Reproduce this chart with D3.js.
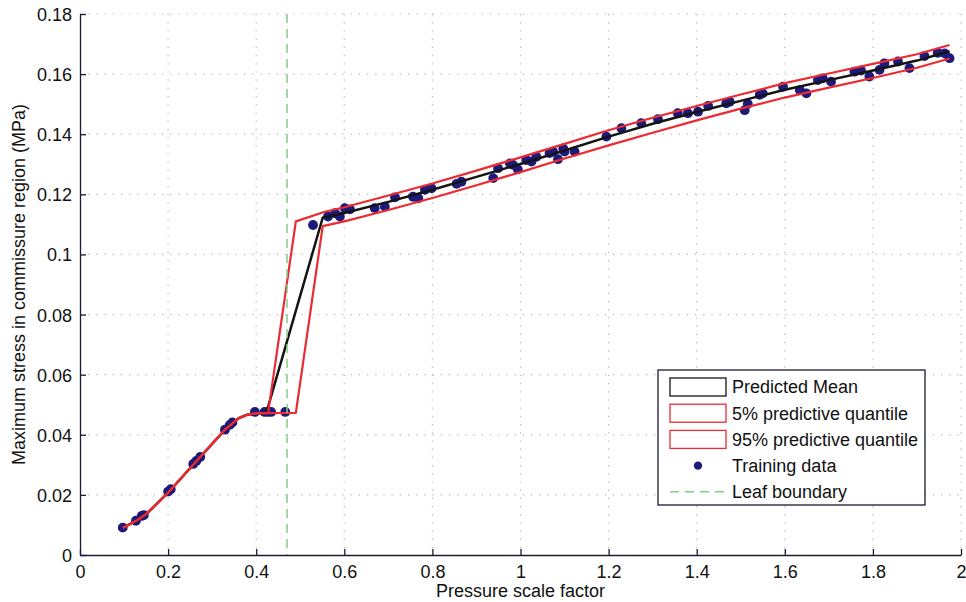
<!DOCTYPE html>
<html>
<head>
<meta charset="utf-8">
<script src="https://cdn.jsdelivr.net/npm/d3@7"></script>
<style>
  html, body { margin: 0; padding: 0; background: #fff; }
  svg { display: block; font-family: "Liberation Sans", Arial, Helvetica, sans-serif; }
</style>
</head>
<body>
<svg id="chart" width="966" height="602"></svg>
<script>
// Pressure scale factor vs. maximum commissure stress (MPa)

// Training runs of the simulator
const trainX = [0.097, 0.127, 0.140, 0.145, 0.200, 0.206, 0.257, 0.264, 0.273, 0.329, 0.340, 0.346,
  0.397, 0.419, 0.427, 0.434, 0.466,
  0.529, 0.563, 0.579, 0.590, 0.601, 0.613, 0.669, 0.692, 0.715, 0.756, 0.768, 0.783, 0.798,
  0.855, 0.866, 0.938, 0.949, 0.976, 0.983, 0.994, 1.013, 1.025, 1.036, 1.066, 1.074, 1.085,
  1.097, 1.100, 1.123, 1.195, 1.229, 1.274, 1.312, 1.357, 1.380, 1.403, 1.426, 1.467, 1.475,
  1.509, 1.516, 1.543, 1.550, 1.596, 1.634, 1.649, 1.675, 1.686, 1.705, 1.758, 1.773, 1.792,
  1.815, 1.826, 1.857, 1.883, 1.917, 1.947, 1.963, 1.974];
const trainY = [0.0091, 0.0114, 0.0130, 0.0133, 0.0211, 0.0219, 0.0303, 0.0313, 0.0326, 0.0417, 0.0433, 0.0441,
  0.0476, 0.0476, 0.0476, 0.0476, 0.0476,
  0.1098, 0.1126, 0.1137, 0.1126, 0.1154, 0.1150, 0.1154, 0.1159, 0.1190, 0.1192, 0.1187, 0.1215, 0.1220,
  0.1235, 0.1242, 0.1254, 0.1287, 0.1303, 0.1298, 0.1283, 0.1314, 0.1309, 0.1325, 0.1337, 0.1342, 0.1317,
  0.1353, 0.1342, 0.1342, 0.1392, 0.1420, 0.1437, 0.1450, 0.1470, 0.1470, 0.1475, 0.1494, 0.1503, 0.1508,
  0.1480, 0.1501, 0.1531, 0.1536, 0.1558, 0.1547, 0.1536, 0.1580, 0.1586, 0.1575, 0.1608, 0.1612, 0.1592,
  0.1614, 0.1636, 0.1642, 0.1620, 0.1660, 0.1671, 0.1669, 0.1653];

// Emulator predicted mean
const meanX = [0.097, 0.13, 0.15, 0.2, 0.25, 0.3, 0.33, 0.36, 0.38, 0.4, 0.423, 0.551,
  0.6, 0.7, 0.8, 0.9, 1.0, 1.1, 1.2, 1.3, 1.4, 1.5, 1.6, 1.7, 1.8, 1.9, 1.974];
const meanY = [0.0090, 0.0116, 0.0136, 0.0207, 0.0289, 0.0370, 0.0418, 0.0455, 0.0467, 0.0471, 0.0473, 0.1122,
  0.1138, 0.1175, 0.1215, 0.1258, 0.1301, 0.1346, 0.1392, 0.1435, 0.1474, 0.1511, 0.1548, 0.1580, 0.1612, 0.1645, 0.1676];

// 5% predictive quantile
const q05X = [0.097, 0.13, 0.15, 0.2, 0.25, 0.3, 0.33, 0.36, 0.38, 0.4, 0.423, 0.49, 0.551,
  0.6, 0.7, 0.8, 0.9, 1.0, 1.1, 1.2, 1.3, 1.4, 1.5, 1.6, 1.7, 1.8, 1.9, 1.974];
const q05Y = [0.0090, 0.0116, 0.0136, 0.0207, 0.0289, 0.0370, 0.0418, 0.0455, 0.0467, 0.0471, 0.0472, 0.0473, 0.1094,
  0.1110, 0.1148, 0.1188, 0.1230, 0.1274, 0.1319, 0.1363, 0.1405, 0.1446, 0.1485, 0.1522, 0.1555, 0.1587, 0.1621, 0.1652];

// 95% predictive quantile
const q95X = [0.097, 0.13, 0.15, 0.2, 0.25, 0.3, 0.33, 0.36, 0.38, 0.4, 0.427, 0.49, 0.556,
  0.6, 0.7, 0.8, 0.9, 1.0, 1.1, 1.2, 1.3, 1.4, 1.5, 1.6, 1.7, 1.8, 1.9, 1.974];
const q95Y = [0.0090, 0.0116, 0.0136, 0.0207, 0.0289, 0.0370, 0.0418, 0.0455, 0.0467, 0.0471, 0.0473, 0.1110, 0.1142,
  0.1157, 0.1196, 0.1236, 0.1279, 0.1323, 0.1368, 0.1413, 0.1455, 0.1494, 0.1532, 0.1570, 0.1602, 0.1634, 0.1666, 0.1697];

// Leaf boundary
const leafBoundary = 0.47;

// Axis ticks
const xTicks = [0, 0.2, 0.4, 0.6, 0.8, 1, 1.2, 1.4, 1.6, 1.8, 2];
const xTickLabels = ["0", "0.2", "0.4", "0.6", "0.8", "1", "1.2", "1.4", "1.6", "1.8", "2"];
const yTicks = [0, 0.02, 0.04, 0.06, 0.08, 0.1, 0.12, 0.14, 0.16, 0.18];
const yTickLabels = ["0", "0.02", "0.04", "0.06", "0.08", "0.1", "0.12", "0.14", "0.16", "0.18"];

const legendLabels = ["Predicted Mean", "5% predictive quantile", "95% predictive quantile", "Training data", "Leaf boundary"];

const colors = { mean: "#141414", quant: "#ec2a32", point: "#1c1a7a", leaf: "#86cc86", axis: "#1a1a33", grid: "#b4b4b8" };

const svg = d3.select("#chart");
const plot = { left: 80, right: 961, top: 14, bottom: 555 };
const x = d3.scaleLinear().domain([0, 2]).range([plot.left, plot.right]);
const y = d3.scaleLinear().domain([0, 0.18]).range([plot.bottom, plot.top]);

// dotted grid
const grid = svg.append("g");
grid.selectAll("line.gx").data(xTicks.slice(1)).join("line")
  .attr("x1", d => x(d)).attr("x2", d => x(d)).attr("y1", plot.top).attr("y2", plot.bottom)
  .attr("stroke", colors.grid).attr("stroke-width", 1.2).attr("stroke-dasharray", "1.2,7");
grid.selectAll("line.gy").data(yTicks.slice(1)).join("line")
  .attr("x1", plot.left).attr("x2", plot.right).attr("y1", d => y(d)).attr("y2", d => y(d))
  .attr("stroke", colors.grid).attr("stroke-width", 1.2).attr("stroke-dasharray", "1.2,7");

// training points
svg.append("g").selectAll("circle").data(trainX).join("circle")
  .attr("cx", d => x(d)).attr("cy", (d, i) => y(trainY[i])).attr("r", 4.9)
  .attr("fill", colors.point);

const line = d3.line().x(d => x(d[0])).y(d => y(d[1]));
const pairs = (xs, ys) => xs.map((v, i) => [v, ys[i]]);

svg.append("path").datum(pairs(meanX, meanY)).attr("d", line)
  .attr("fill", "none").attr("stroke", colors.mean).attr("stroke-width", 2.5).attr("stroke-linejoin", "round");
svg.append("path").datum(pairs(q05X, q05Y)).attr("d", line)
  .attr("fill", "none").attr("stroke", colors.quant).attr("stroke-width", 2.2).attr("stroke-linejoin", "round");
svg.append("path").datum(pairs(q95X, q95Y)).attr("d", line)
  .attr("fill", "none").attr("stroke", colors.quant).attr("stroke-width", 2.2).attr("stroke-linejoin", "round");

// leaf boundary
svg.append("line")
  .attr("x1", x(leafBoundary)).attr("x2", x(leafBoundary)).attr("y1", plot.top).attr("y2", plot.bottom)
  .attr("stroke", colors.leaf).attr("stroke-width", 1.5).attr("stroke-dasharray", "9,6");

// axes
const xAxis = svg.append("g").attr("transform", `translate(0,${plot.bottom})`)
  .call(d3.axisBottom(x).tickValues(xTicks).tickFormat((d, i) => xTickLabels[i])
    .tickSizeInner(-6).tickSizeOuter(0).tickPadding(10));
const yAxis = svg.append("g").attr("transform", `translate(${plot.left},0)`)
  .call(d3.axisLeft(y).tickValues(yTicks).tickFormat((d, i) => yTickLabels[i])
    .tickSizeInner(-6).tickSizeOuter(0).tickPadding(8));
[xAxis, yAxis].forEach(a => {
  a.select(".domain").attr("stroke", colors.axis).attr("stroke-width", 1.3);
  a.selectAll(".tick line").attr("stroke", colors.axis).attr("stroke-width", 1.3);
  a.selectAll(".tick text").attr("fill", "#111").style("font-size", "18px")
    .style("font-family", "'Liberation Sans', Arial, sans-serif");
});
yAxis.selectAll(".tick text").attr("dy", "0.36em");

svg.append("text").attr("x", (plot.left + plot.right) / 2).attr("y", 597).attr("text-anchor", "middle")
  .attr("fill", "#111").style("font-size", "18px").text("Pressure scale factor");
svg.append("text").attr("transform", `translate(25,${(plot.top + plot.bottom) / 2}) rotate(-90)`)
  .attr("text-anchor", "middle").attr("fill", "#111").style("font-size", "18px")
  .text("Maximum stress in commissure region (MPa)");

// legend
const lg = svg.append("g").attr("transform", "translate(658,370)");
lg.append("rect").attr("width", 267).attr("height", 135)
  .attr("fill", "#fff").attr("stroke", colors.axis).attr("stroke-width", 1.3);
const rowY = i => 17 + i * 26.2;
lg.selectAll("text").data(legendLabels).join("text")
  .attr("x", 74).attr("y", (d, i) => rowY(i)).attr("dy", "0.36em")
  .attr("fill", "#111").style("font-size", "18px").text(d => d);
[colors.mean, colors.quant, colors.quant].forEach((c, i) => {
  lg.append("rect").attr("x", 12).attr("y", rowY(i) - 9).attr("width", 56).attr("height", 18)
    .attr("fill", "none").attr("stroke", c).attr("stroke-width", 1.3);
});
lg.append("circle").attr("cx", 40).attr("cy", rowY(3)).attr("r", 4.2).attr("fill", colors.point);
lg.append("line").attr("x1", 12).attr("x2", 68).attr("y1", rowY(4)).attr("y2", rowY(4))
  .attr("stroke", colors.leaf).attr("stroke-width", 1.5).attr("stroke-dasharray", "9,6");
</script>
</body>
</html>
